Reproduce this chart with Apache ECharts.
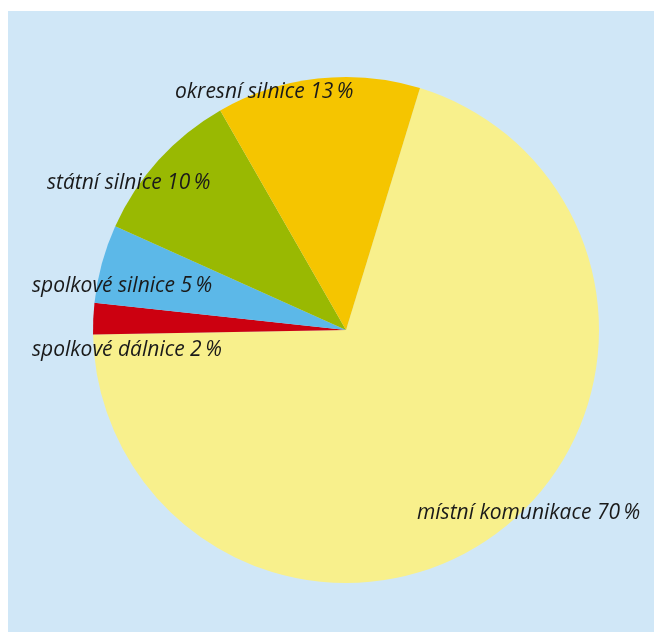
<!DOCTYPE html>
<html>
<head>
<meta charset="utf-8">
<script src="https://cdn.jsdelivr.net/npm/echarts@6/dist/echarts.min.js"></script>
<style>
  html, body { margin: 0; padding: 0; background: #ffffff; }
  #chart { width: 654px; height: 632px; }
</style>
</head>
<body>
<div id="chart"></div>
<script>
// slices in clockwise order starting at the top-right edge
const categories = ["místní komunikace", "spolkové dálnice", "spolkové silnice", "státní silnice", "okresní silnice"];
const shares = [70, 2, 5, 10, 13];
const sliceColors = ["#f8f08c", "#cc0010", "#5cb8e8", "#99b902", "#f5c500"];
// where each label sits (left x, middle y)
const labelPos = [[417, 513], [32, 350], [32, 286], [47, 183], [175, 92]];

const chart = echarts.init(document.getElementById("chart"));

const labels = categories.map((c, i) => ({
  type: "text",
  left: labelPos[i][0],
  top: labelPos[i][1] - 10,
  z: 100,
  style: {
    text: c + " " + shares[i] + "\u2009%",
    fill: "#1a1a1a",
    font: "italic 21px 'Open Sans'"
  }
}));

const option = {
  animation: false,
  graphic: [
    {
      type: "rect",
      left: 8,
      top: 11,
      z: -10,
      shape: { width: 646, height: 621 },
      style: { fill: "#d0e7f7" }
    },
    ...labels
  ],
  series: [
    {
      type: "pie",
      center: [346, 330],
      radius: 253,
      startAngle: 73,
      clockwise: true,
      label: { show: false },
      labelLine: { show: false },
      itemStyle: { borderWidth: 0 },
      data: categories.map((c, i) => ({
        name: c,
        value: shares[i],
        itemStyle: { color: sliceColors[i] }
      }))
    }
  ]
};

chart.setOption(option);
</script>
</body>
</html>
